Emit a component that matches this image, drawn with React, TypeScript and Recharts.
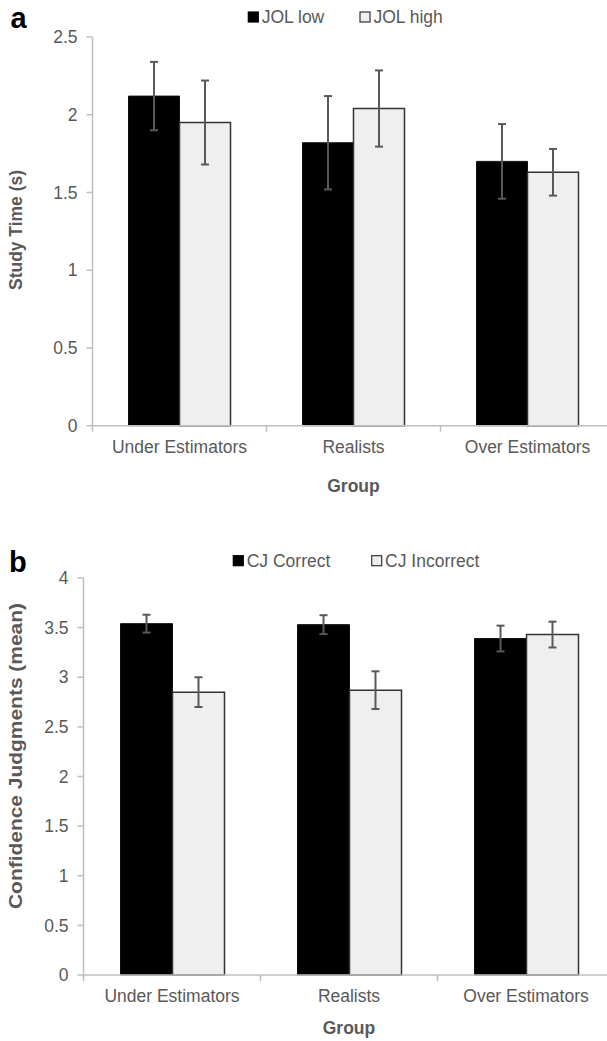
import { BarChart, Bar, XAxis, YAxis, ErrorBar } from 'recharts';

const groups = ['Under Estimators', 'Realists', 'Over Estimators'];

// panel a - study time
const jolLow = [2.12, 1.82, 1.7];
const jolLowErr = [0.22, 0.3, 0.24];
const jolHigh = [1.95, 2.04, 1.63];
const jolHighErr = [0.27, 0.245, 0.15];
const studyTicks = [0, 0.5, 1, 1.5, 2, 2.5];

// panel b - confidence judgments
const cjCorrect = [3.54, 3.53, 3.39];
const cjCorrectErr = [0.09, 0.095, 0.13];
const cjIncorrect = [2.85, 2.87, 3.43];
const cjIncorrectErr = [0.15, 0.19, 0.13];
const cjTicks = [0, 0.5, 1, 1.5, 2, 2.5, 3, 3.5, 4];

const FONT = '"Liberation Sans", Arial, sans-serif';
const GREY = '#595959';
const AXIS = '#bfbfbf';
const LIGHT = '#efefef';
const EDGE = '#333333';

const dataA = groups.map((g, i) => ({
  group: g,
  low: jolLow[i],
  lowErr: jolLowErr[i],
  high: jolHigh[i],
  highErr: jolHighErr[i],
}));

const dataB = groups.map((g, i) => ({
  group: g,
  correct: cjCorrect[i],
  correctErr: cjCorrectErr[i],
  incorrect: cjIncorrect[i],
  incorrectErr: cjIncorrectErr[i],
}));

// x ticks: label in the middle, small tick marks on the category boundaries
const makeGroupTick = (band: number, count: number) => (props: any) => {
  const { x, y, payload, index } = props;
  const axisY = y - 15;
  const left = x - band / 2;
  return (
    <g>
      <line x1={left} x2={left} y1={axisY} y2={axisY + 6} stroke={AXIS} strokeWidth={1.5} />
      {index === count - 1 && (
        <line x1={x + band / 2} x2={x + band / 2} y1={axisY} y2={axisY + 6} stroke={AXIS} strokeWidth={1.5} />
      )}
      <text x={x} y={y} dy="0.71em" textAnchor="middle" fill={GREY} fontSize={17.5} fontFamily={FONT}>
        {payload.value}
      </text>
    </g>
  );
};

const yTitle = (text: string, cx: number, cy: number, size: number, len: number) => () => (
  <text
    x={cx}
    y={cy}
    dy="0.35em"
    transform={`rotate(-90, ${cx}, ${cy})`}
    textAnchor="middle"
    fontWeight="bold"
    fontSize={size}
    fill={GREY}
    fontFamily={FONT}
    textLength={len}
    lengthAdjust="spacingAndGlyphs"
  >
    {text}
  </text>
);

const xTitle = (baseline: number) => (props: any) => {
  const vb = props.viewBox || {};
  return (
    <text x={vb.x + vb.width / 2} y={baseline} textAnchor="middle" fontWeight="bold" fontSize={17.5} fill={GREY} fontFamily={FONT}>
      Group
    </text>
  );
};

const tickStyle = { fill: GREY, fontSize: 17.5, fontFamily: FONT };

function LegendItem({ x, y, dark, label }: { x: number; y: number; dark: boolean; label: string }) {
  return (
    <g>
      <rect
        x={x}
        y={y - 5}
        width={10}
        height={10}
        fill={dark ? '#000' : LIGHT}
        stroke={dark ? '#000' : EDGE}
        strokeWidth={1.2}
      />
      <text x={x + 13.4} y={y + 6.3} fontSize={17.5} fill={GREY} fontFamily={FONT}>
        {label}
      </text>
    </g>
  );
}

export default function App() {
  const W = 620;
  const bandA = (W - 92.5 - 5.5) / groups.length;
  const bandB = (W - 83.5 - 5.5) / groups.length;

  return (
    <div style={{ position: 'absolute', left: 0, top: 0, width: 607, height: 1041, overflow: 'hidden', background: '#fff' }}>
      {/* panel a */}
      <div style={{ position: 'absolute', left: 0, top: 0 }}>
        <BarChart width={W} height={500} data={dataA} barGap={0} margin={{ top: 37, right: 5.5, left: 0, bottom: 44.3 }}>
          <XAxis
            dataKey="group"
            height={30}
            axisLine={{ stroke: AXIS, strokeWidth: 1.5 }}
            tickLine={false}
            tickSize={6}
            tickMargin={9}
            interval={0}
            tick={makeGroupTick(bandA, groups.length)}
            label={{ content: xTitle(492) }}
          />
          <YAxis
            width={92.5}
            domain={[0, 2.5]}
            ticks={studyTicks}
            interval={0}
            axisLine={{ stroke: AXIS, strokeWidth: 1.5 }}
            tickLine={{ stroke: AXIS, strokeWidth: 1.5 }}
            tickSize={6}
            tickMargin={9}
            tick={tickStyle}
            label={{ content: yTitle('Study Time (s)', 15.5, 230, 17.5, 120) }}
          />
          <Bar dataKey="low" fill="#000" stroke="#111" strokeWidth={1} barSize={51} isAnimationActive={false}>
            <ErrorBar dataKey="lowErr" width={4} stroke={GREY} strokeWidth={2} direction="y" isAnimationActive={false} />
          </Bar>
          <Bar dataKey="high" fill={LIGHT} stroke={EDGE} strokeWidth={1.5} barSize={51} isAnimationActive={false}>
            <ErrorBar dataKey="highErr" width={4} stroke={GREY} strokeWidth={2} direction="y" isAnimationActive={false} />
          </Bar>
        </BarChart>
      </div>

      {/* panel b */}
      <div style={{ position: 'absolute', left: 0, top: 500 }}>
        <BarChart width={W} height={541} data={dataB} barGap={0} margin={{ top: 78, right: 5.5, left: 0, bottom: 36 }}>
          <XAxis
            dataKey="group"
            height={30}
            axisLine={{ stroke: AXIS, strokeWidth: 1.5 }}
            tickLine={false}
            tickSize={6}
            tickMargin={9}
            interval={0}
            tick={makeGroupTick(bandB, groups.length)}
            label={{ content: xTitle(534) }}
          />
          <YAxis
            width={83.5}
            domain={[0, 4]}
            ticks={cjTicks}
            interval={0}
            axisLine={{ stroke: AXIS, strokeWidth: 1.5 }}
            tickLine={{ stroke: AXIS, strokeWidth: 1.5 }}
            tickSize={6}
            tickMargin={9}
            tick={tickStyle}
            label={{ content: yTitle('Confidence Judgments (mean)', 15.5, 256, 18.5, 306) }}
          />
          <Bar dataKey="correct" fill="#000" stroke="#111" strokeWidth={1} barSize={52} isAnimationActive={false}>
            <ErrorBar dataKey="correctErr" width={4} stroke={GREY} strokeWidth={2} direction="y" isAnimationActive={false} />
          </Bar>
          <Bar dataKey="incorrect" fill={LIGHT} stroke={EDGE} strokeWidth={1.5} barSize={52} isAnimationActive={false}>
            <ErrorBar dataKey="incorrectErr" width={4} stroke={GREY} strokeWidth={2} direction="y" isAnimationActive={false} />
          </Bar>
        </BarChart>
      </div>

      {/* panel letters and legends */}
      <svg width={607} height={1041} style={{ position: 'absolute', left: 0, top: 0, pointerEvents: 'none' }}>
        <text x={10.5} y={28} fontSize={29} fontWeight="bold" fontFamily={FONT} fill="#000">a</text>
        <text x={9} y={571.5} fontSize={29} fontWeight="bold" fontFamily={FONT} fill="#000">b</text>
        <LegendItem x={248.3} y={17} dark label="JOL low" />
        <LegendItem x={360} y={17} dark={false} label="JOL high" />
        <LegendItem x={233.3} y={560.7} dark label="CJ Correct" />
        <LegendItem x={371.7} y={560.7} dark={false} label="CJ Incorrect" />
      </svg>
    </div>
  );
}
